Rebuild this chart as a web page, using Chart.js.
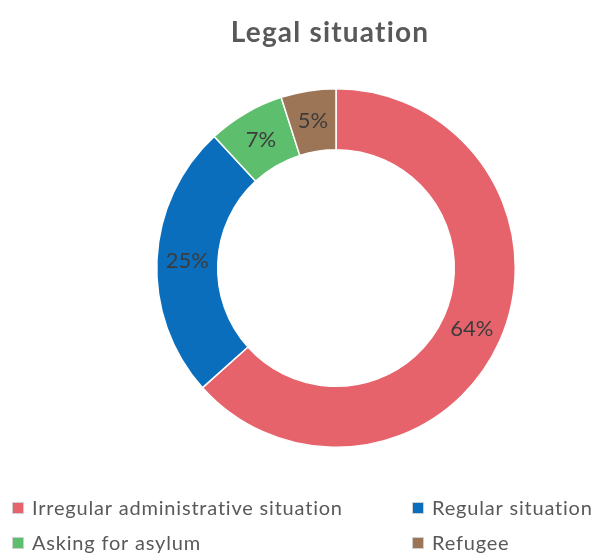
<!DOCTYPE html>
<html>
<head>
<meta charset="utf-8">
<script src="https://cdn.jsdelivr.net/npm/chart.js@4/dist/chart.umd.min.js"></script>
<style>
	html, body { margin: 0; padding: 0; background: #fff; }
	#wrap { position: relative; width: 597px; height: 554px; }
</style>
</head>
<body>
<div id="wrap"><canvas id="legalChart" width="597" height="554"></canvas></div>
<script>
const chartTitle = 'Legal situation';
const categories = ['Irregular administrative situation', 'Regular situation', 'Asking for asylum', 'Refugee'];
const shares = [64, 25, 7, 5];
const sliceColors = ['#E6636C', '#0A6EBD', '#5DBE6E', '#9C7556'];

// title with a little tracking, drawn straight onto the canvas
const spacedTitle = {
	id: 'spacedTitle',
	afterDraw(chart) {
		const ctx = chart.ctx;
		ctx.save();
		ctx.font = 'bold 28px Lato';
		ctx.letterSpacing = '1.2px';
		ctx.fillStyle = '#595959';
		ctx.textAlign = 'center';
		ctx.textBaseline = 'alphabetic';
		ctx.fillText(chartTitle, 330, 42);
		ctx.restore();
	},
};

// labels in the middle of each ring segment
const sliceLabels = {
	id: 'sliceLabels',
	afterDatasetsDraw(chart) {
		const ctx = chart.ctx;
		const meta = chart.getDatasetMeta(0);
		ctx.save();
		ctx.font = '22px Lato';
		ctx.fillStyle = '#3C3C3C';
		ctx.textAlign = 'center';
		ctx.textBaseline = 'middle';
		meta.data.forEach((arc, i) => {
			const p = arc.getCenterPoint();
			ctx.fillText(shares[i] + '%', p.x, p.y);
		});
		ctx.restore();
	},
};

// two-column legend under the ring
const gridLegend = {
	id: 'gridLegend',
	afterDraw(chart) {
		const ctx = chart.ctx;
		const cols = [12, 412];
		const rows = [508, 543];
		ctx.save();
		ctx.font = '20px Lato';
		ctx.letterSpacing = '0.8px';
		ctx.textBaseline = 'middle';
		categories.forEach((name, i) => {
			const x = cols[i % 2];
			const y = rows[Math.floor(i / 2)];
			ctx.fillStyle = sliceColors[i];
			ctx.fillRect(x, y - 6, 12, 12);
			ctx.strokeStyle = '#D0D0D0';
			ctx.lineWidth = 1;
			ctx.strokeRect(x + 0.5, y - 5.5, 11, 11);
			ctx.fillStyle = '#595959';
			ctx.fillText(name, x + 20, y + 1);
		});
		ctx.restore();
	},
};

new Chart(document.getElementById('legalChart').getContext('2d'), {
	type: 'doughnut',
	data: {
		labels: categories,
		datasets: [
			{
				data: shares,
				backgroundColor: sliceColors,
				borderColor: '#ffffff',
				borderWidth: 1.5,
			},
		],
	},
	options: {
		responsive: false,
		animation: false,
		cutout: '66%',
		layout: { padding: { left: 156, right: 81, top: 88, bottom: 106 } },
		plugins: {
			legend: { display: false },
			tooltip: { enabled: false },
			title: { display: false },
		},
	},
	plugins: [sliceLabels, gridLegend, spacedTitle],
});
</script>
</body>
</html>
